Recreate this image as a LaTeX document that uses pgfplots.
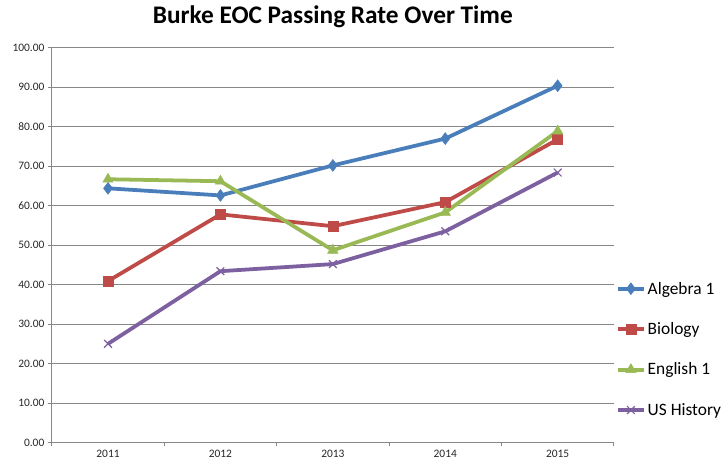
\documentclass[border=0pt]{standalone}
\usepackage{pgfplots}
\pgfplotsset{compat=1.18}
\usepackage{fontspec}
\setmainfont{Carlito}
\definecolor{alg}{HTML}{4A7EBB}
\definecolor{bio}{HTML}{BE4B48}
\definecolor{eng}{HTML}{98B954}
\definecolor{ush}{HTML}{7D60A0}
\definecolor{gridc}{HTML}{878787}
\begin{document}
\begin{tikzpicture}
\path (-52bp,-22bp) rectangle (673bp,444bp);
\begin{axis}[
  at={(0,0)}, anchor=south west,
  scale only axis, width=564bp, height=396bp,
  xmin=-0.5, xmax=4.5, ymin=0, ymax=100,
  xtick={0,1,2,3,4}, xticklabels={2011,2012,2013,2014,2015},
  minor xtick={-0.5,0.5,1.5,2.5,3.5,4.5},
  major x tick style={draw=none},
  ytick={0,10,...,100},
  axis x line*=bottom, axis y line*=left,
  axis line style={gridc, line width=0.8pt, -},
  every tick/.style={gridc, line width=0.8pt},
  tick align=outside, major tick length=4bp, minor tick length=4bp,
  ymajorgrids, grid style={gridc, line width=0.8pt},
  yticklabel style={/pgf/number format/.cd, fixed, fixed zerofill, precision=2, /tikz/.cd, font=\fontsize{11.5}{13}\selectfont, text=black!85},
  xticklabel style={font=\fontsize{11.5}{13}\selectfont, text=black!85},
  /pgf/number format/assume math mode=true,
  title={\textbf{Burke EOC Passing Rate Over Time}},
  title style={font=\fontsize{25.5}{30}\selectfont, at={(0.5,1)}, yshift=25bp, anchor=center},
  legend style={draw=none, fill=none, at={(1.0,0.236)}, anchor=west, font=\fontsize{17.5}{21}\selectfont, row sep=23bp, legend cell align=left, inner xsep=2bp},
  legend image code/.code={\draw[#1] (0cm,0cm) -- (0.5*26bp,0cm) -- (26bp,0cm); \draw[#1, draw=none] plot coordinates {(13bp,0cm)};},
  clip=false,
]
\addplot[alg, line width=3.8pt, mark=diamond*, mark size=6bp, mark options={solid, line width=0.5pt}] coordinates {(0,64.4) (1,62.6) (2,70.2) (3,77.0) (4,90.4)};
\addlegendentry{Algebra 1}
\addplot[bio, line width=3.8pt, mark=square*, mark size=5bp, mark options={solid, line width=0.5pt}] coordinates {(0,40.9) (1,57.8) (2,54.8) (3,60.9) (4,76.8)};
\addlegendentry{Biology}
\addplot[eng, line width=3.8pt, mark=triangle*, mark size=6bp, mark options={solid, line width=0.5pt}] coordinates {(0,66.7) (1,66.2) (2,48.7) (3,58.3) (4,78.9)};
\addlegendentry{English 1}
\addplot[ush, line width=3.8pt, mark=x, mark size=5.5bp, mark options={solid, line width=1.2pt}] coordinates {(0,25.0) (1,43.4) (2,45.2) (3,53.5) (4,68.4)};
\addlegendentry{US History}
\end{axis}
\end{tikzpicture}
\end{document}
